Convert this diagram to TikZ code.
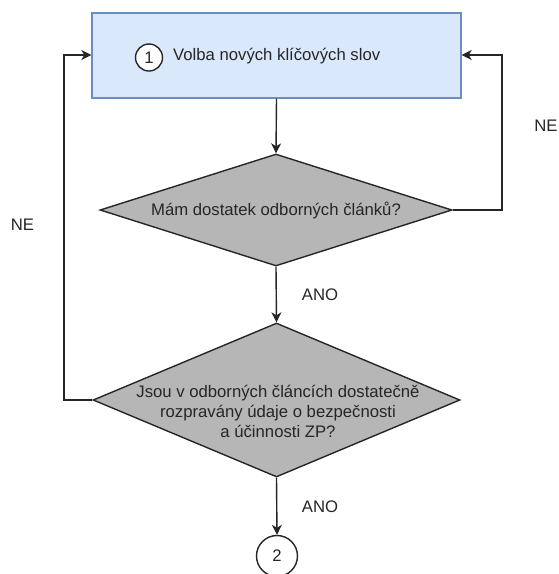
\documentclass[tikz,border=0pt]{standalone}
\usepackage{fontspec}
\setmainfont{Liberation Sans}
\usetikzlibrary{shapes.geometric,arrows.meta}

\definecolor{boxfill}{HTML}{DAE8FC}
\definecolor{boxline}{HTML}{6C8EBF}
\definecolor{decfill}{RGB}{182,182,182}

\tikzset{
  flow/.style={line width=1.4pt, draw=black!85},
  arrowline/.style={flow, -{Stealth[length=10pt,width=10pt,inset=3pt]}},
  stepbox/.style={rectangle, draw=boxline, fill=boxfill, line width=1.4pt,
    minimum width=369pt, minimum height=85pt, inner sep=0pt},
  decision/.style={diamond, draw=black!85, fill=decfill, line width=1.4pt,
    inner sep=0pt},
  marker/.style={circle, draw=black!85, fill=white, line width=1.4pt,
    inner sep=0pt},
  txt/.style={font=\fontsize{16.7}{20}\selectfont, text=black!85, inner sep=0pt}
}

\begin{document}
\begin{tikzpicture}[x=1pt,y=-1pt]
  \useasboundingbox (0,0) rectangle (558,574);

  % process step
  \node[stepbox] (volba) at (276.5,55.5) {};
  \node[marker, minimum size=27pt] (c1) at (149,57.5) {};
  \node[txt] (c1t) at (c1.center) {1};
  \node[txt, anchor=west] (volbat) at (173,56) {Volba nových klíčových slov};

  % first decision
  \node[decision, minimum width=352pt, minimum height=112pt] (d1) at (276,210) {};
  \node[txt] (d1t) at (276,210.5) {Mám dostatek odborných článků?};

  % second decision
  \node[decision, minimum width=367pt, minimum height=154pt] (d2) at (276.5,400) {};
  \node[txt, align=center] (d2t) at (278,411)
    {Jsou v odborných článcích dostatečně\\rozpravány údaje o bezpečnosti\\a účinnosti ZP?};

  % connector to the next part
  \node[marker, minimum size=41pt] (c2) at (277,556) {};
  \node[txt] (c2t) at (c2.center) {2};

  % main flow
  \draw[arrowline] (volba.south) -- (d1.north);
  \draw[arrowline] (d1.south) -- (d2.north);
  \draw[arrowline] (d2.south) -- (c2.north);

  % loops back to the step
  \coordinate (rtop) at (502,55);
  \coordinate (ltop) at (64,55);
  \draw[arrowline] (d1.east) -| (rtop) -- (volba.east |- rtop);
  \draw[arrowline] (d2.west) -| (ltop) -- (volba.west |- ltop);

  % branch labels
  \node[txt] (ne1) at (546,126) {NE};
  \node[txt] (ne2) at (22.5,225) {NE};
  \node[txt] (ano1) at (320,295) {ANO};
  \node[txt] (ano2) at (320,507) {ANO};
\end{tikzpicture}
\end{document}
